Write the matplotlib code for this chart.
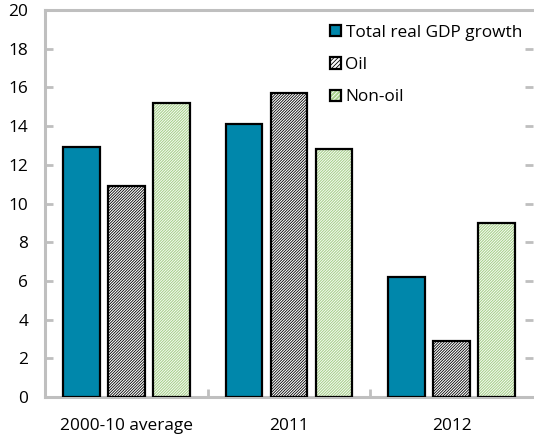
import numpy as np
import matplotlib.pyplot as plt
from matplotlib.patches import Patch

plt.rcParams['font.family'] = ['Open Sans', 'DejaVu Sans']
plt.rcParams['hatch.linewidth'] = 0.6

categories = ["2000-10 average", "2011", "2012"]
total = [12.9, 14.1, 6.2]
oil = [10.9, 15.7, 2.9]
non_oil = [15.2, 12.8, 9.0]
labels = ["Total real GDP growth", "Oil", "Non-oil"]

blue = "#0087AB"
green = "#A9D18E"
grid_grey = "#BFBFBF"
fs = 12.4

fig = plt.figure(figsize=(5.34, 4.38), dpi=100)
ax = fig.add_axes([45 / 534, 41 / 438, 488 / 534, 387 / 438])

x = np.arange(len(categories))
w = 0.225
step = 0.277
dense = "////////////"

# total: solid fill
ax.bar(x - step, total, w, color=blue, edgecolor="black", linewidth=1.6, zorder=3)
# oil: black diagonal hatch on white
ax.bar(x, oil, w, color="white", edgecolor="black", hatch=dense, linewidth=0, zorder=3)
ax.bar(x, oil, w, fill=False, edgecolor="black", linewidth=1.6, zorder=4)
# non-oil: white hatch on light green
ax.bar(x + step, non_oil, w, color=green, edgecolor="white", hatch=dense, linewidth=0, zorder=3)
ax.bar(x + step, non_oil, w, fill=False, edgecolor="black", linewidth=1.6, zorder=4)

ax.set_xlim(-0.5, 2.5)
ax.set_ylim(0, 20)
ax.set_yticks(range(0, 21, 2))

ax.set_xticks(x)
ax.set_xticklabels(categories)
ax.set_xticks([0.5, 1.5], minor=True)
ax.tick_params(axis="x", which="major", length=0, pad=15, labelsize=fs)
ax.tick_params(axis="x", which="minor", direction="in", length=6, width=2, color=grid_grey)
ax.tick_params(axis="y", direction="in", length=6, width=2, color=grid_grey,
               right=True, pad=12, labelsize=fs)

for side in ["left", "top", "bottom"]:
    ax.spines[side].set_color(grid_grey)
    ax.spines[side].set_linewidth(2.2)
ax.spines["right"].set_visible(False)

h_total = Patch(facecolor=blue, edgecolor="black", linewidth=1.6)
h_oil = (Patch(facecolor="white", edgecolor="black", hatch="////////", linewidth=0),
         Patch(fill=False, edgecolor="black", linewidth=1.6))
h_non = (Patch(facecolor=green, edgecolor="white", hatch="////////", linewidth=0),
         Patch(fill=False, edgecolor="black", linewidth=1.6))
ax.legend([h_total, h_oil, h_non], labels, loc="upper left",
          bbox_to_anchor=(285 / 488, 0.962), frameon=False, fontsize=fs,
          handlelength=0.65, handleheight=0.65, handletextpad=0.25,
          labelspacing=0.95, borderpad=0, borderaxespad=0)

fig.savefig("out.png", dpi=100)
